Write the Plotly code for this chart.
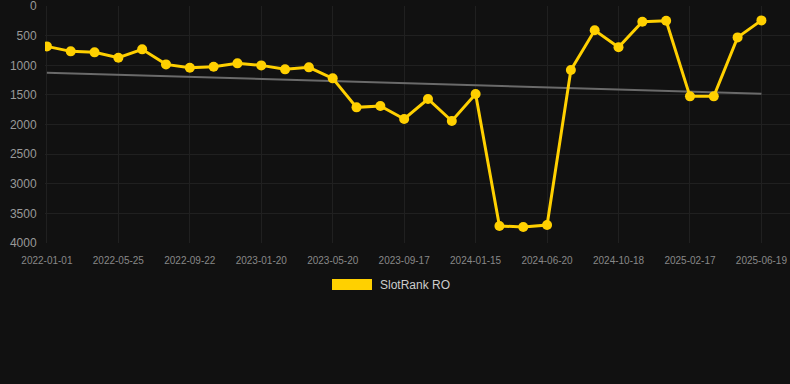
import plotly.graph_objects as go

dates = [
    "2022-01-01", "2022-02-18", "2022-04-07", "2022-05-25", "2022-07-04", "2022-08-13",
    "2022-09-22", "2022-11-01", "2022-12-11", "2023-01-20", "2023-03-01", "2023-04-10",
    "2023-05-20", "2023-06-29", "2023-08-08", "2023-09-17", "2023-10-27", "2023-12-06",
    "2024-01-15", "2024-03-07", "2024-04-29", "2024-06-20", "2024-07-30", "2024-09-08",
    "2024-10-18", "2024-11-27", "2025-01-08", "2025-02-17", "2025-03-29", "2025-05-10",
    "2025-06-19",
]
ranks = [
    679, 763, 780, 870, 729, 983, 1039, 1022, 966, 1000, 1067, 1033,
    1219, 1709, 1686, 1906, 1568, 1939, 1483, 3713, 3730, 3696,
    1078, 408, 695, 262, 245, 1523, 1523, 527, 240,
]
tick_labels = [
    "2022-01-01", "2022-05-25", "2022-09-22", "2023-01-20", "2023-05-20", "2023-09-17",
    "2024-01-15", "2024-06-20", "2024-10-18", "2025-02-17", "2025-06-19",
]
trend_dates = ["2022-01-01", "2025-06-19"]
trend_values = [1123, 1478]
y_ticks = [0, 500, 1000, 1500, 2000, 2500, 3000, 3500, 4000]

BG = "#111111"
GRID = "#202020"
GOLD = "#FFD000"

fig = go.Figure()
fig.add_trace(go.Scatter(
    x=trend_dates, y=trend_values, mode="lines",
    line=dict(color="#6a6a6a", width=2), showlegend=False, hoverinfo="skip",
))
fig.add_trace(go.Scatter(
    x=dates, y=ranks, mode="lines+markers", name="SlotRank RO",
    line=dict(color=GOLD, width=3),
    marker=dict(color=GOLD, size=10),
    showlegend=False,
))

L, R, T, B = 45, 0, 6, 141
W, H = 790, 384
pw = W - L - R
ph = H - T - B

def px_x(p):
    return (p - L) / pw

def px_y(p):
    return (H - B - p) / ph

fig.add_shape(type="rect", xref="paper", yref="paper",
              x0=px_x(332), x1=px_x(372), y0=px_y(290), y1=px_y(279),
              fillcolor=GOLD, line=dict(width=0))
fig.add_annotation(xref="paper", yref="paper", x=px_x(378), y=px_y(284.5),
                   text="SlotRank RO", showarrow=False, xanchor="left", yanchor="middle",
                   font=dict(size=12, color="#cccccc"))

fig.update_layout(
    width=W, height=H,
    margin=dict(l=L, r=R, t=T, b=B),
    paper_bgcolor=BG, plot_bgcolor=BG,
    font=dict(family="Liberation Sans, Arial, sans-serif"),
    showlegend=False,
    xaxis=dict(
        type="category", categoryorder="array", categoryarray=dates,
        range=[-0.08, 31.2],
        tickmode="array", tickvals=tick_labels, ticktext=tick_labels,
        tickfont=dict(size=10, color="#888888"),
        showgrid=True, gridcolor=GRID, gridwidth=1,
        zeroline=False, showline=False,
        ticks="outside", ticklen=8, tickcolor="rgba(0,0,0,0)",
        tickangle=0, ticklabeloverflow="allow",
    ),
    yaxis=dict(
        range=[4000, -3],
        tickmode="array", tickvals=y_ticks,
        tickfont=dict(size=12, color="#999999"),
        showgrid=True, gridcolor=GRID, gridwidth=1,
        zeroline=False, showline=False,
        ticks="outside", ticklen=5, tickcolor="rgba(0,0,0,0)",
        ticklabeloverflow="allow",
    ),
)

fig.write_html("out.html", config={"displayModeBar": False})
with open("out.html", "r", encoding="utf-8") as f:
    html = f.read()
html = html.replace("<head>", "<head><style>html,body{margin:0;padding:0;background:#111111;}</style>", 1)
with open("out.html", "w", encoding="utf-8") as f:
    f.write(html)
